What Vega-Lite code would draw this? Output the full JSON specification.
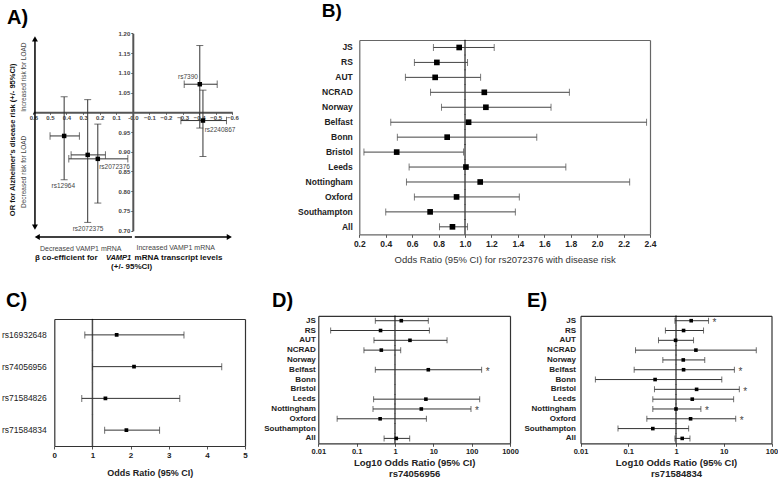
{
"$schema": "https://vega.github.io/schema/vega-lite/v6.json",
"width": 778, "height": 481, "padding": 0, "autosize": {"type": "none"},
"background": "white",
"config": {
  "font": "Liberation Sans",
  "view": {"stroke": null},
  "axis": {"grid": false, "labelFlush": false, "labelOverlap": false, "domainColor": "#555", "tickColor": "#555", "labelColor": "#222", "titleColor": "#222"}
},
"datasets": {
  "A": [
    {"snp": "rs7390", "beta": -0.404, "beta_lo": -0.509, "beta_hi": -0.31, "or": 1.071, "or_lo": 0.96, "or_hi": 1.169},
    {"snp": "rs2240867", "beta": -0.423, "beta_lo": -0.565, "beta_hi": -0.29, "or": 0.979, "or_lo": 0.888, "or_hi": 1.056},
    {"snp": "rs12964", "beta": 0.414, "beta_lo": 0.322, "beta_hi": 0.499, "or": 0.94, "or_lo": 0.829, "or_hi": 1.039},
    {"snp": "rs2072375", "beta": 0.272, "beta_lo": 0.165, "beta_hi": 0.372, "or": 0.892, "or_lo": 0.721, "or_hi": 1.032},
    {"snp": "rs2072376", "beta": 0.211, "beta_lo": 0.03, "beta_hi": 0.386, "or": 0.882, "or_lo": 0.77, "or_hi": 0.97}
  ],
  "B": [
    {"site": "JS", "or": 0.956, "lo": 0.761, "hi": 1.221},
    {"site": "RS", "or": 0.787, "lo": 0.617, "hi": 1.019},
    {"site": "AUT", "or": 0.774, "lo": 0.549, "hi": 1.118},
    {"site": "NCRAD", "or": 1.146, "lo": 0.739, "hi": 1.79},
    {"site": "Norway", "or": 1.158, "lo": 0.822, "hi": 1.651},
    {"site": "Belfast", "or": 1.027, "lo": 0.438, "hi": 2.374},
    {"site": "Bonn", "or": 0.865, "lo": 0.488, "hi": 1.543},
    {"site": "Bristol", "or": 0.483, "lo": 0.235, "hi": 0.989},
    {"site": "Leeds", "or": 1.007, "lo": 0.577, "hi": 1.763},
    {"site": "Nottingham", "or": 1.115, "lo": 0.557, "hi": 2.246},
    {"site": "Oxford", "or": 0.936, "lo": 0.617, "hi": 1.411},
    {"site": "Southampton", "or": 0.736, "lo": 0.4, "hi": 1.381},
    {"site": "All", "or": 0.905, "lo": 0.807, "hi": 1.019}
  ],
  "C": [
    {"snp": "rs16932648", "or": 1.635, "lo": 0.8, "hi": 3.4},
    {"snp": "rs74056956", "or": 2.09, "lo": 1.0, "hi": 4.39},
    {"snp": "rs71584826", "or": 1.34, "lo": 0.72, "hi": 3.29},
    {"snp": "rs71584834", "or": 1.89, "lo": 1.32, "hi": 2.76}
  ],
  "D": [
    {"site": "JS", "or": 1.46, "lo": 0.307, "hi": 7.4},
    {"site": "RS", "or": 0.42, "lo": 0.021, "hi": 7.9},
    {"site": "AUT", "or": 2.46, "lo": 0.283, "hi": 22.8},
    {"site": "NCRAD", "or": 0.44, "lo": 0.155, "hi": 1.41},
    {"site": "Norway", "or": null, "lo": null, "hi": null},
    {"site": "Belfast", "or": 7.4, "lo": 0.307, "hi": 182, "sig": true},
    {"site": "Bonn", "or": null, "lo": null, "hi": null},
    {"site": "Bristol", "or": null, "lo": null, "hi": null},
    {"site": "Leeds", "or": 6.4, "lo": 0.277, "hi": 162},
    {"site": "Nottingham", "or": 4.86, "lo": 0.267, "hi": 96, "sig": true},
    {"site": "Oxford", "or": 0.41, "lo": 0.031, "hi": 6.6},
    {"site": "Southampton", "or": null, "lo": null, "hi": null},
    {"site": "All", "or": 1.08, "lo": 0.52, "hi": 2.42}
  ],
  "E": [
    {"site": "JS", "or": 2.08, "lo": 0.95, "hi": 4.8, "sig": true},
    {"site": "RS", "or": 1.44, "lo": 0.6, "hi": 3.77},
    {"site": "AUT", "or": 0.98, "lo": 0.43, "hi": 2.33},
    {"site": "NCRAD", "or": 2.61, "lo": 0.142, "hi": 48},
    {"site": "Norway", "or": 1.42, "lo": 0.53, "hi": 4.0},
    {"site": "Belfast", "or": 1.44, "lo": 0.133, "hi": 16.7, "sig": true},
    {"site": "Bonn", "or": 0.365, "lo": 0.0205, "hi": 9.1},
    {"site": "Bristol", "or": 2.7, "lo": 0.354, "hi": 21.2, "sig": true},
    {"site": "Leeds", "or": 2.19, "lo": 0.327, "hi": 16.1},
    {"site": "Nottingham", "or": 1.0, "lo": 0.327, "hi": 3.32, "sig": true},
    {"site": "Oxford", "or": 2.02, "lo": 0.245, "hi": 17.8, "sig": true},
    {"site": "Southampton", "or": 0.327, "lo": 0.061, "hi": 1.84},
    {"site": "All", "or": 1.35, "lo": 0.95, "hi": 1.96}
  ]
},
"layer": [
  {
    "data": {"name": "A"},
    "layer": [
      {"mark": {"type": "rule", "color": "#333", "strokeWidth": 1},
       "encoding": {
         "x": {"field": "beta_lo", "type": "quantitative", "scale": {"domain": [-0.6, 0.6], "range": [232.3, 33.3], "nice": false, "zero": false},
               "axis": {"orient": "bottom", "offset": -368.7, "values": [-0.6, -0.5, -0.4, -0.3, -0.2, -0.1, 0, 0.1, 0.2, 0.3, 0.4, 0.5, 0.6], "labelExpr": "datum.value == 0 ? '-0.0' : format(datum.value, '.1f')", "title": null, "domainWidth": 2, "domainColor": "#555", "tickSize": 2, "labelPadding": 0, "labelFontSize": 6, "labelFontWeight": "bold", "labelColor": "#444"}},
         "x2": {"field": "beta_hi"},
         "y": {"field": "or", "type": "quantitative", "scale": {"domain": [0.7, 1.2], "range": [230.7, 33.3], "nice": false, "zero": false},
               "axis": {"orient": "left", "offset": -132.8, "values": [0.7, 0.75, 0.8, 0.85, 0.9, 0.95, 1, 1.05, 1.1, 1.15, 1.2], "labelExpr": "datum.value == 1 ? '' : format(datum.value, '.2f')", "title": null, "domainWidth": 2, "domainColor": "#555", "tickSize": 2, "labelPadding": 1, "labelFontSize": 6, "labelFontWeight": "bold", "labelColor": "#444"}}
       }},
      {"mark": {"type": "tick", "orient": "vertical", "size": 7.5, "thickness": 1, "color": "#333"},
       "encoding": {"x": {"field": "beta_lo", "type": "quantitative"}, "y": {"field": "or", "type": "quantitative"}}},
      {"mark": {"type": "tick", "orient": "vertical", "size": 7.5, "thickness": 1, "color": "#333"},
       "encoding": {"x": {"field": "beta_hi", "type": "quantitative"}, "y": {"field": "or", "type": "quantitative"}}},
      {"mark": {"type": "rule", "color": "#333", "strokeWidth": 1},
       "encoding": {"x": {"field": "beta", "type": "quantitative"}, "y": {"field": "or_lo", "type": "quantitative"}, "y2": {"field": "or_hi"}}},
      {"mark": {"type": "tick", "orient": "horizontal", "size": 7, "thickness": 1, "color": "#333"},
       "encoding": {"x": {"field": "beta", "type": "quantitative"}, "y": {"field": "or_lo", "type": "quantitative"}}},
      {"mark": {"type": "tick", "orient": "horizontal", "size": 7, "thickness": 1, "color": "#333"},
       "encoding": {"x": {"field": "beta", "type": "quantitative"}, "y": {"field": "or_hi", "type": "quantitative"}}},
      {"mark": {"type": "point", "shape": "square", "filled": true, "size": 20, "color": "#000", "opacity": 1},
       "encoding": {"x": {"field": "beta", "type": "quantitative"}, "y": {"field": "or", "type": "quantitative"}}},

      {"data": {"values": [{}]}, "mark": {"type": "rule", "color": "#000", "strokeWidth": 1.5},
       "encoding": {"x": {"datum": 0.59, "type": "quantitative"}, "y": {"datum": 1.188, "type": "quantitative"}, "y2": {"datum": 0.709}}},
      {"data": {"values": [{}]}, "mark": {"type": "point", "shape": "triangle-up", "filled": true, "size": 35, "color": "#000", "opacity": 1},
       "encoding": {"x": {"datum": 0.59, "type": "quantitative"}, "y": {"datum": 1.186, "type": "quantitative"}}},
      {"data": {"values": [{}]}, "mark": {"type": "point", "shape": "triangle-down", "filled": true, "size": 35, "color": "#000", "opacity": 1},
       "encoding": {"x": {"datum": 0.59, "type": "quantitative"}, "y": {"datum": 0.709, "type": "quantitative"}}},
      {"data": {"values": [{}]}, "mark": {"type": "rule", "color": "#000", "strokeWidth": 1.5},
       "encoding": {"x": {"datum": 0.005, "type": "quantitative"}, "x2": {"datum": 0.576}, "y": {"datum": 0.684, "type": "quantitative"}}},
      {"data": {"values": [{}]}, "mark": {"type": "point", "shape": "triangle-left", "filled": true, "size": 35, "color": "#000", "opacity": 1},
       "encoding": {"x": {"datum": 0.576, "type": "quantitative"}, "y": {"datum": 0.684, "type": "quantitative"}}},
      {"data": {"values": [{}]}, "mark": {"type": "rule", "color": "#000", "strokeWidth": 1.5},
       "encoding": {"x": {"datum": -0.012, "type": "quantitative"}, "x2": {"datum": -0.582}, "y": {"datum": 0.684, "type": "quantitative"}}},
      {"data": {"values": [{}]}, "mark": {"type": "point", "shape": "triangle-right", "filled": true, "size": 35, "color": "#000", "opacity": 1},
       "encoding": {"x": {"datum": -0.582, "type": "quantitative"}, "y": {"datum": 0.684, "type": "quantitative"}}},

      {"data": {"values": [{}]}, "mark": {"type": "text", "text": "Increased risk for LOAD", "angle": 270, "fontSize": 6.5, "color": "#444"},
       "encoding": {"x": {"datum": 0.656, "type": "quantitative"}, "y": {"datum": 1.089, "type": "quantitative"}}},
      {"data": {"values": [{}]}, "mark": {"type": "text", "text": "Decreased risk for LOAD", "angle": 270, "fontSize": 6.5, "color": "#444"},
       "encoding": {"x": {"datum": 0.656, "type": "quantitative"}, "y": {"datum": 0.849, "type": "quantitative"}}},
      {"data": {"values": [{}]}, "mark": {"type": "text", "text": "OR for Alzheimer's disease risk (+/- 95%CI)", "angle": 270, "fontSize": 7.5, "fontWeight": "bold", "color": "#111"},
       "encoding": {"x": {"datum": 0.724, "type": "quantitative"}, "y": {"datum": 0.93, "type": "quantitative"}}},
      {"data": {"values": [{}]}, "mark": {"type": "text", "text": "Decreased VAMP1 mRNA", "fontSize": 7, "color": "#444"},
       "encoding": {"x": {"datum": 0.314, "type": "quantitative"}, "y": {"datum": 0.6538, "type": "quantitative"}}},
      {"data": {"values": [{}]}, "mark": {"type": "text", "text": "Increased VAMP1 mRNA", "fontSize": 7, "color": "#444"},
       "encoding": {"x": {"datum": -0.259, "type": "quantitative"}, "y": {"datum": 0.6555, "type": "quantitative"}}},
      {"data": {"values": [{}]}, "mark": {"type": "text", "text": "β co-efficient for", "fontSize": 8, "fontWeight": "bold", "align": "left", "color": "#111"},
       "encoding": {"x": {"datum": 0.59, "type": "quantitative"}, "y": {"datum": 0.632, "type": "quantitative"}}},
      {"data": {"values": [{}]}, "mark": {"type": "text", "text": "VAMP1", "fontSize": 7.5, "fontWeight": "bold", "fontStyle": "italic", "align": "left", "color": "#111"},
       "encoding": {"x": {"datum": 0.162, "type": "quantitative"}, "y": {"datum": 0.632, "type": "quantitative"}}},
      {"data": {"values": [{}]}, "mark": {"type": "text", "text": "mRNA transcript levels", "fontSize": 8, "fontWeight": "bold", "align": "left", "color": "#111"},
       "encoding": {"x": {"datum": -0.011, "type": "quantitative"}, "y": {"datum": 0.632, "type": "quantitative"}}},
      {"data": {"values": [{}]}, "mark": {"type": "text", "text": "(+/- 95%CI)", "fontSize": 8, "fontWeight": "bold", "color": "#111"},
       "encoding": {"x": {"datum": 0.007, "type": "quantitative"}, "y": {"datum": 0.609, "type": "quantitative"}}},

      {"data": {"values": [{}]}, "mark": {"type": "text", "text": "rs7390", "fontSize": 6.5, "color": "#444"},
       "encoding": {"x": {"datum": -0.333, "type": "quantitative"}, "y": {"datum": 1.0887, "type": "quantitative"}}},
      {"data": {"values": [{}]}, "mark": {"type": "text", "text": "rs2240867", "fontSize": 6.5, "color": "#444"},
       "encoding": {"x": {"datum": -0.526, "type": "quantitative"}, "y": {"datum": 0.955, "type": "quantitative"}}},
      {"data": {"values": [{}]}, "mark": {"type": "text", "text": "rs2072376", "fontSize": 6.5, "color": "#444"},
       "encoding": {"x": {"datum": 0.11, "type": "quantitative"}, "y": {"datum": 0.862, "type": "quantitative"}}},
      {"data": {"values": [{}]}, "mark": {"type": "text", "text": "rs12964", "fontSize": 6.5, "color": "#444"},
       "encoding": {"x": {"datum": 0.419, "type": "quantitative"}, "y": {"datum": 0.812, "type": "quantitative"}}},
      {"data": {"values": [{}]}, "mark": {"type": "text", "text": "rs2072375", "fontSize": 6.5, "color": "#444"},
       "encoding": {"x": {"datum": 0.27, "type": "quantitative"}, "y": {"datum": 0.704, "type": "quantitative"}}},

      {"data": {"values": [{}]}, "mark": {"type": "text", "text": "A)", "fontSize": 20, "fontWeight": "bold", "align": "left", "baseline": "alphabetic", "color": "#000"},
       "encoding": {"x": {"datum": 0.7588, "type": "quantitative"}, "y": {"datum": 1.2237, "type": "quantitative"}}},
      {"data": {"values": [{}]}, "mark": {"type": "text", "text": "B)", "fontSize": 19, "fontWeight": "bold", "align": "left", "baseline": "alphabetic", "color": "#000"},
       "encoding": {"x": {"datum": -1.1393, "type": "quantitative"}, "y": {"datum": 1.2414, "type": "quantitative"}}},
      {"data": {"values": [{}]}, "mark": {"type": "text", "text": "C)", "fontSize": 20, "fontWeight": "bold", "align": "left", "baseline": "alphabetic", "color": "#000"},
       "encoding": {"x": {"datum": 0.7648, "type": "quantitative"}, "y": {"datum": 0.5068, "type": "quantitative"}}},
      {"data": {"values": [{}]}, "mark": {"type": "text", "text": "D)", "fontSize": 20, "fontWeight": "bold", "align": "left", "baseline": "alphabetic", "color": "#000"},
       "encoding": {"x": {"datum": -0.8395, "type": "quantitative"}, "y": {"datum": 0.5068, "type": "quantitative"}}},
      {"data": {"values": [{}]}, "mark": {"type": "text", "text": "E)", "fontSize": 20, "fontWeight": "bold", "align": "left", "baseline": "alphabetic", "color": "#000"},
       "encoding": {"x": {"datum": -2.3776, "type": "quantitative"}, "y": {"datum": 0.5068, "type": "quantitative"}}}
    ]
  },
  {
    "data": {"name": "B"},
    "resolve": {"axis": {"x": "independent", "y": "independent"}},
    "layer": [
      {"mark": {"type": "tick", "orient": "vertical", "size": 15.5, "thickness": 1.5, "color": "#000"},
       "encoding": {
         "x": {"datum": 1, "type": "quantitative", "scale": {"domain": [0.2, 2.4], "range": [359.3, 650], "nice": false, "zero": false},
               "axis": {"orient": "top", "offset": -40, "labels": false, "ticks": false, "title": null, "domainColor": "#666", "domainWidth": 1.2}},
         "y": {"field": "site", "type": "nominal", "scale": {"domain": ["JS","RS","AUT","NCRAD","Norway","Belfast","Bonn","Bristol","Leeds","Nottingham","Oxford","Southampton","All"], "range": [40, 234.3], "paddingInner": 0, "paddingOuter": 0},
               "axis": {"orient": "right", "offset": -128, "labels": false, "ticks": false, "title": null, "domainColor": "#666", "domainWidth": 1.2}}
       }},
      {"layer": [
        {"mark": {"type": "rule", "color": "#444", "strokeWidth": 1},
         "encoding": {
           "x": {"field": "lo", "type": "quantitative", "scale": {"domain": [0.2, 2.4], "range": [359.3, 650], "nice": false, "zero": false},
                 "axis": {"orient": "bottom", "offset": -246.7, "values": [0.2, 0.4, 0.6, 0.8, 1, 1.2, 1.4, 1.6, 1.8, 2, 2.2, 2.4], "format": ".1f", "title": "Odds Ratio (95% CI) for rs2072376 with disease risk", "titleFontWeight": "normal", "titleFontSize": 9.5, "titlePadding": 7, "titleColor": "#333", "labelFontSize": 8.5, "labelFontWeight": "bold", "tickSize": 3, "labelPadding": 2, "domainColor": "#666", "domainWidth": 1.2}},
           "x2": {"field": "hi"},
           "y": {"field": "site", "type": "nominal", "scale": {"domain": ["JS","RS","AUT","NCRAD","Norway","Belfast","Bonn","Bristol","Leeds","Nottingham","Oxford","Southampton","All"], "range": [40, 234.3], "paddingInner": 0, "paddingOuter": 0},
                 "axis": {"orient": "left", "offset": -359.3, "title": null, "ticks": false, "labelPadding": 7, "labelFontSize": 8.5, "labelFontWeight": "bold", "domainColor": "#666", "domainWidth": 1.2}}
         }},
        {"mark": {"type": "tick", "orient": "vertical", "size": 7, "thickness": 1, "color": "#444"},
         "encoding": {"x": {"field": "lo", "type": "quantitative"}, "y": {"field": "site", "type": "nominal"}}},
        {"mark": {"type": "tick", "orient": "vertical", "size": 7, "thickness": 1, "color": "#444"},
         "encoding": {"x": {"field": "hi", "type": "quantitative"}, "y": {"field": "site", "type": "nominal"}}},
        {"mark": {"type": "point", "shape": "square", "filled": true, "size": 32, "color": "#000", "opacity": 1},
         "encoding": {"x": {"field": "or", "type": "quantitative"}, "y": {"field": "site", "type": "nominal"}}}
      ]}
    ]
  },
  {
    "data": {"name": "C"},
    "resolve": {"axis": {"x": "independent", "y": "independent"}},
    "layer": [
      {"mark": {"type": "tick", "orient": "vertical", "size": 32, "thickness": 1.5, "color": "#000"},
       "encoding": {
         "x": {"datum": 1, "type": "quantitative", "scale": {"domain": [0, 5], "range": [54.3, 245], "nice": false, "zero": false},
               "axis": {"orient": "top", "offset": -319, "labels": false, "ticks": false, "title": null, "domainColor": "#333", "domainWidth": 1.2}},
         "y": {"field": "snp", "type": "nominal", "scale": {"domain": ["rs16932648","rs74056956","rs71584826","rs71584834"], "range": [319, 446], "paddingInner": 0, "paddingOuter": 0},
               "axis": {"orient": "right", "offset": -533, "labels": false, "ticks": false, "title": null, "domainColor": "#333", "domainWidth": 1.2}}
       }},
      {"layer": [
        {"mark": {"type": "rule", "color": "#333", "strokeWidth": 1},
         "encoding": {
           "x": {"field": "lo", "type": "quantitative", "scale": {"domain": [0, 5], "range": [54.3, 245], "nice": false, "zero": false},
                 "axis": {"orient": "bottom", "offset": -35, "values": [0, 1, 2, 3, 4, 5], "format": "d", "title": "Odds Ratio (95% CI)", "titleFontWeight": "bold", "titleFontSize": 9, "titlePadding": 9, "labelFontSize": 8, "labelFontWeight": "bold", "tickSize": 3, "labelPadding": 2, "domainColor": "#333", "domainWidth": 1.2}},
           "x2": {"field": "hi"},
           "y": {"field": "snp", "type": "nominal", "scale": {"domain": ["rs16932648","rs74056956","rs71584826","rs71584834"], "range": [319, 446], "paddingInner": 0, "paddingOuter": 0},
                 "axis": {"orient": "left", "offset": -54.3, "title": null, "ticks": false, "labelPadding": 8, "labelFontSize": 8.5, "labelFontWeight": "normal", "domainColor": "#333", "domainWidth": 1.2}}
         }},
        {"mark": {"type": "tick", "orient": "vertical", "size": 7, "thickness": 1, "color": "#333"},
         "encoding": {"x": {"field": "lo", "type": "quantitative"}, "y": {"field": "snp", "type": "nominal"}}},
        {"mark": {"type": "tick", "orient": "vertical", "size": 7, "thickness": 1, "color": "#333"},
         "encoding": {"x": {"field": "hi", "type": "quantitative"}, "y": {"field": "snp", "type": "nominal"}}},
        {"mark": {"type": "point", "shape": "square", "filled": true, "size": 14, "color": "#000", "opacity": 1},
         "encoding": {"x": {"field": "or", "type": "quantitative"}, "y": {"field": "snp", "type": "nominal"}}}
      ]}
    ]
  },
  {
    "data": {"name": "D"},
    "resolve": {"axis": {"x": "independent", "y": "independent"}},
    "layer": [
      {"mark": {"type": "tick", "orient": "vertical", "size": 10.2, "thickness": 1.5, "color": "#000"},
       "encoding": {
         "x": {"datum": 1, "type": "quantitative", "scale": {"type": "log", "domain": [0.01, 1000], "range": [318.3, 510], "nice": false},
               "axis": {"orient": "top", "offset": -315.8, "labels": false, "ticks": false, "title": null, "domainColor": "#333", "domainWidth": 1.2}},
         "y": {"field": "site", "type": "nominal", "scale": {"domain": ["JS","RS","AUT","NCRAD","Norway","Belfast","Bonn","Bristol","Leeds","Nottingham","Oxford","Southampton","All"], "range": [315.8, 443.3], "paddingInner": 0, "paddingOuter": 0},
               "axis": {"orient": "right", "offset": -268, "labels": false, "ticks": false, "title": null, "domainColor": "#333", "domainWidth": 1.2}}
       }},
      {"layer": [
        {"mark": {"type": "rule", "color": "#333", "strokeWidth": 1},
         "encoding": {
           "x": {"field": "lo", "type": "quantitative", "scale": {"type": "log", "domain": [0.01, 1000], "range": [318.3, 510], "nice": false},
                 "axis": {"orient": "bottom", "offset": -37.7, "values": [0.01, 0.1, 1, 10, 100, 1000], "format": "~g", "title": ["Log10 Odds Ratio (95% CI)", "rs74056956"], "titleFontWeight": "bold", "titleFontSize": 9.5, "titleLineHeight": 10.5, "titlePadding": 3, "labelFontSize": 7.5, "labelFontWeight": "bold", "tickSize": 3, "labelPadding": 1, "domainColor": "#333", "domainWidth": 1.2}},
           "x2": {"field": "hi"},
           "y": {"field": "site", "type": "nominal", "scale": {"domain": ["JS","RS","AUT","NCRAD","Norway","Belfast","Bonn","Bristol","Leeds","Nottingham","Oxford","Southampton","All"], "range": [315.8, 443.3], "paddingInner": 0, "paddingOuter": 0},
                 "axis": {"orient": "left", "offset": -318.3, "title": null, "ticks": false, "labelPadding": 3, "labelFontSize": 8, "labelFontWeight": "bold", "domainColor": "#333", "domainWidth": 1.2}}
         }},
        {"mark": {"type": "tick", "orient": "vertical", "size": 6, "thickness": 1, "color": "#333"},
         "encoding": {"x": {"field": "lo", "type": "quantitative"}, "y": {"field": "site", "type": "nominal"}}},
        {"mark": {"type": "tick", "orient": "vertical", "size": 6, "thickness": 1, "color": "#333"},
         "encoding": {"x": {"field": "hi", "type": "quantitative"}, "y": {"field": "site", "type": "nominal"}}},
        {"mark": {"type": "point", "shape": "square", "filled": true, "size": 13, "color": "#000", "opacity": 1},
         "encoding": {"x": {"field": "or", "type": "quantitative"}, "y": {"field": "site", "type": "nominal"}}},
        {"transform": [{"filter": "datum.sig"}],
         "mark": {"type": "text", "text": "*", "align": "left", "dx": 4, "dy": 2.5, "fontSize": 10, "fill": "#444"},
         "encoding": {"x": {"field": "hi", "type": "quantitative"}, "y": {"field": "site", "type": "nominal"}}}
      ]}
    ]
  },
  {
    "data": {"name": "E"},
    "resolve": {"axis": {"x": "independent", "y": "independent"}},
    "layer": [
      {"mark": {"type": "tick", "orient": "vertical", "size": 10.2, "thickness": 1.5, "color": "#000"},
       "encoding": {
         "x": {"datum": 1, "type": "quantitative", "scale": {"type": "log", "domain": [0.01, 100], "range": [580.5, 771.5], "nice": false},
               "axis": {"orient": "top", "offset": -315.8, "labels": false, "ticks": false, "title": null, "domainColor": "#333", "domainWidth": 1.2}},
         "y": {"field": "site", "type": "nominal", "scale": {"domain": ["JS","RS","AUT","NCRAD","Norway","Belfast","Bonn","Bristol","Leeds","Nottingham","Oxford","Southampton","All"], "range": [315.8, 443.3], "paddingInner": 0, "paddingOuter": 0},
               "axis": {"orient": "right", "offset": -6.5, "labels": false, "ticks": false, "title": null, "domainColor": "#333", "domainWidth": 1.2}}
       }},
      {"layer": [
        {"mark": {"type": "rule", "color": "#333", "strokeWidth": 1},
         "encoding": {
           "x": {"field": "lo", "type": "quantitative", "scale": {"type": "log", "domain": [0.01, 100], "range": [580.5, 771.5], "nice": false},
                 "axis": {"orient": "bottom", "offset": -37.7, "values": [0.01, 0.1, 1, 10, 100], "format": "~g", "title": ["Log10 Odds Ratio (95% CI)", "rs71584834"], "titleFontWeight": "bold", "titleFontSize": 9.5, "titleLineHeight": 10.5, "titlePadding": 3, "labelFontSize": 7.5, "labelFontWeight": "bold", "tickSize": 3, "labelPadding": 1, "domainColor": "#333", "domainWidth": 1.2}},
           "x2": {"field": "hi"},
           "y": {"field": "site", "type": "nominal", "scale": {"domain": ["JS","RS","AUT","NCRAD","Norway","Belfast","Bonn","Bristol","Leeds","Nottingham","Oxford","Southampton","All"], "range": [315.8, 443.3], "paddingInner": 0, "paddingOuter": 0},
                 "axis": {"orient": "left", "offset": -580.5, "title": null, "ticks": false, "labelPadding": 5, "labelFontSize": 8, "labelFontWeight": "bold", "domainColor": "#333", "domainWidth": 1.2}}
         }},
        {"mark": {"type": "tick", "orient": "vertical", "size": 6, "thickness": 1, "color": "#333"},
         "encoding": {"x": {"field": "lo", "type": "quantitative"}, "y": {"field": "site", "type": "nominal"}}},
        {"mark": {"type": "tick", "orient": "vertical", "size": 6, "thickness": 1, "color": "#333"},
         "encoding": {"x": {"field": "hi", "type": "quantitative"}, "y": {"field": "site", "type": "nominal"}}},
        {"mark": {"type": "point", "shape": "square", "filled": true, "size": 13, "color": "#000", "opacity": 1},
         "encoding": {"x": {"field": "or", "type": "quantitative"}, "y": {"field": "site", "type": "nominal"}}},
        {"transform": [{"filter": "datum.sig"}],
         "mark": {"type": "text", "text": "*", "align": "left", "dx": 4, "dy": 2.5, "fontSize": 10, "fill": "#444"},
         "encoding": {"x": {"field": "hi", "type": "quantitative"}, "y": {"field": "site", "type": "nominal"}}}
      ]}
    ]
  }
],
"resolve": {"scale": {"x": "independent", "y": "independent"}, "axis": {"x": "independent", "y": "independent"}}
}
